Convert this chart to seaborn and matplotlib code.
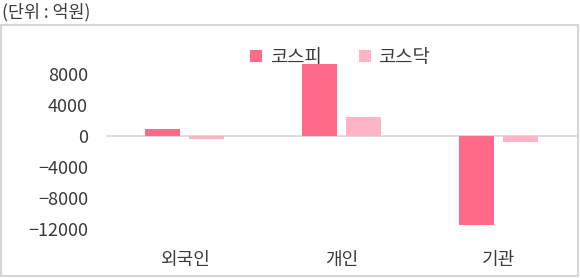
import matplotlib
matplotlib.use("Agg")
import matplotlib.pyplot as plt
import seaborn as sns
import pandas as pd
from matplotlib.patches import Rectangle

categories = ["외국인", "개인", "기관"]
series = ["코스피", "코스닥"]
kospi = [800, 9300, -11600]
kosdaq = [-500, 2400, -800]
yticks = [8000, 4000, 0, -4000, -8000, -12000]
unit_label = "(단위 : 억원)"

colors = {"코스피": "#FF6A8B", "코스닥": "#FFB3C7"}

sns.set_theme(style="white")
plt.rcParams['font.family'] = ['Noto Sans CJK KR', 'DejaVu Sans']
plt.rcParams['axes.unicode_minus'] = True

df = pd.DataFrame({
    "cat": categories * 2,
    "series": [series[0]] * 3 + [series[1]] * 3,
    "value": kospi + kosdaq,
})

fig = plt.figure(figsize=(5.8, 2.78), dpi=100)
ax = fig.add_axes([0.1828, 0.1223, 0.812, 0.724])

sns.barplot(data=df, x="cat", y="value", hue="series", order=categories,
            hue_order=series, palette=colors, width=0.566, gap=0.21,
            errorbar=None, ax=ax, saturation=1, linewidth=0)

ax.set_xlim(-0.5, 2.5)
ax.set_ylim(-14000, 12000)
ax.set_yticks(yticks)
ax.set_yticklabels([f"{v}".replace("-", "\u2212") for v in yticks])
ax.axhline(0, color="#D9D9D9", lw=1.2, zorder=0)
for s in ax.spines.values():
    s.set_visible(False)
ax.tick_params(axis="y", length=0, pad=13, labelsize=13, labelcolor="#3A3A3A")
ax.tick_params(axis="x", length=0, pad=5, labelsize=13, labelcolor="#3A3A3A")
ax.set_xlabel("")
ax.set_ylabel("")
ax.grid(False)

leg = ax.legend(loc="upper center", bbox_to_anchor=(0.497, 1.065), ncol=2,
                frameon=False, fontsize=13.5, handlelength=0.65, handleheight=0.65,
                handletextpad=0.4, columnspacing=2.0)
for t in leg.get_texts():
    t.set_color("#3A3A3A")

fig.patches.append(Rectangle((0.002, 0.006), 0.994, 0.905, transform=fig.transFigure,
                             fill=False, edgecolor="#D6D6D6", lw=1.5))
fig.text(0.004, 0.955, unit_label, fontsize=12.5, color="#3A3A3A", va="center", ha="left")

fig.savefig("out.png", dpi=100)
